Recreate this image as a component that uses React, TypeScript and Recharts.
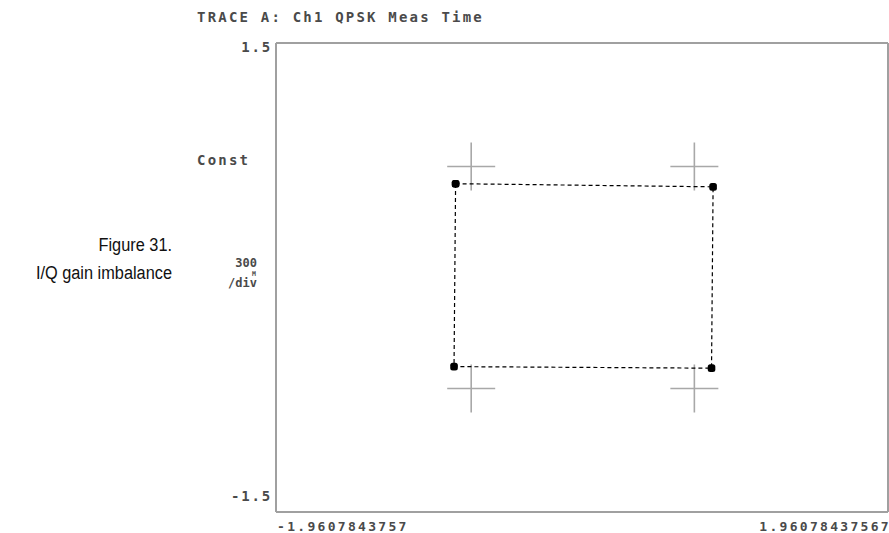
import { ScatterChart, Scatter, XAxis, YAxis, ReferenceLine } from 'recharts';

// axis limits and their printed labels
const xLimits = [-1.9607843757, 1.96078437567];
const xTickLabels = ['-1.9607843757', '1.96078437567'];
const yLimits = [-1.5, 1.5];
const yTickLabels = ['-1.5', '1.5'];

// ideal QPSK symbol positions (grey crosses)
const idealI = [-0.71, 0.72, 0.72, -0.71];
const idealQ = [0.71, 0.71, -0.71, -0.71];

// measured symbols in trace order, back to the first one to close the box
const measI = [-0.81, 0.84, 0.83, -0.82, -0.81];
const measQ = [0.6, 0.58, -0.58, -0.57, 0.6];

const idealData = idealI.map((x, i) => ({ x, y: idealQ[i] }));
const measData = measI.map((x, i) => ({ x, y: measQ[i] }));

const MONO = '"DejaVu Sans Mono", monospace';
const INK = '#4a4a4a';
const BORDER = '#a0a0a0';

const Cross = (props: any) => {
  const { cx, cy } = props;
  return (
    <g stroke="#a8a8a8" strokeWidth={1.6}>
      <line x1={cx - 24} x2={cx + 24} y1={cy} y2={cy} />
      <line x1={cx} x2={cx} y1={cy - 24} y2={cy + 24} />
    </g>
  );
};

const Dot = (props: any) => (
  <rect x={props.cx - 3.8} y={props.cy - 3.8} width={7.6} height={7.6} rx={2.5} fill="#000" />
);

const XTick = (props: any) => {
  const { x, y, index } = props;
  const first = index === 0;
  return (
    <text
      x={first ? x + 1 : x + 3}
      y={y + 19}
      textAnchor={first ? 'start' : 'end'}
      fontFamily={MONO}
      fontWeight="bold"
      fontSize={13}
      letterSpacing={2.3}
      fill={INK}
    >
      {xTickLabels[index]}
    </text>
  );
};

const YTick = (props: any) => {
  const { x, y, payload } = props;
  const idx = yLimits.indexOf(payload.value);
  const top = payload.value > 0;
  return (
    <text
      x={x - 4}
      y={top ? y + 9 : y - 11}
      textAnchor="end"
      fontFamily={MONO}
      fontWeight="bold"
      fontSize={14}
      letterSpacing={1.8}
      fill={INK}
    >
      {yTickLabels[idx]}
    </text>
  );
};

export default function App() {
  return (
    <div style={{ position: 'absolute', left: 0, top: 0, width: 889, height: 533, background: '#fff', overflow: 'hidden' }}>
      <ScatterChart width={889} height={533} margin={{ top: 43, right: 1, bottom: 0, left: 0 }}>
        <XAxis
          type="number"
          dataKey="x"
          domain={xLimits}
          ticks={xLimits}
          interval={0}
          allowDataOverflow
          height={21}
          tickSize={0}
          tickMargin={0}
          tickLine={false}
          axisLine={{ stroke: BORDER, strokeWidth: 2 }}
          tick={<XTick />}
        />
        <YAxis
          type="number"
          dataKey="y"
          domain={yLimits}
          ticks={yLimits}
          interval={0}
          allowDataOverflow
          width={276}
          tickSize={0}
          tickMargin={0}
          tickLine={false}
          axisLine={{ stroke: BORDER, strokeWidth: 2 }}
          tick={<YTick />}
        />
        <ReferenceLine y={yLimits[1]} stroke={BORDER} strokeWidth={2} />
        <ReferenceLine x={xLimits[1]} stroke={BORDER} strokeWidth={2} />
        <Scatter data={idealData} shape={<Cross />} isAnimationActive={false} />
        <Scatter
          data={measData}
          shape={<Dot />}
          line={{ stroke: '#000', strokeWidth: 1.2, strokeDasharray: '4 3' }}
          lineType="joint"
          isAnimationActive={false}
        />
      </ScatterChart>
      <svg width={889} height={533} style={{ position: 'absolute', left: 0, top: 0, pointerEvents: 'none' }}>
        <g fontFamily={MONO} fontWeight="bold" fill={INK}>
          <text x={197} y={22} fontSize={14} letterSpacing={2.2}>TRACE A: Ch1 QPSK Meas Time</text>
          <text x={197} y={165} fontSize={14} letterSpacing={2.2}>Const</text>
          <text x={257} y={267} fontSize={12} textAnchor="end">300</text>
          <text x={256} y={275.5} fontSize={6.5} textAnchor="end">M</text>
          <text x={257} y={287} fontSize={12} textAnchor="end">/div</text>
        </g>
        <g
          transform="translate(172,0) scale(0.86,1)"
          fontFamily='"Liberation Sans Narrow", "Liberation Sans", sans-serif'
          fill="#111"
          fontSize={19}
          textAnchor="end"
        >
          <text x={0} y={251}>Figure 31.</text>
          <text x={0} y={279}>I/Q gain imbalance</text>
        </g>
      </svg>
    </div>
  );
}
